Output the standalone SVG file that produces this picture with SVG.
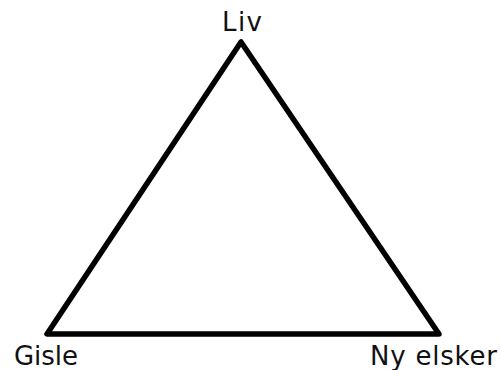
<svg xmlns="http://www.w3.org/2000/svg" width="501" height="370" viewBox="0 0 501 370">
<style>
.lbl{font-family:"DejaVu Sans","Liberation Sans",sans-serif;font-size:26px;fill:#111}
.edge{stroke:#000;stroke-width:5.5;fill:none;stroke-linecap:round;stroke-linejoin:round}
</style>
<rect width="501" height="370" fill="#fff"/>
<g id="connectors">
<polygon class="edge" points="241,42 47,334 439,334"/>
</g>
<g id="liv"><text class="lbl" x="242" y="31" text-anchor="middle" textLength="40">Liv</text></g>
<g id="gisle"><text class="lbl" x="14" y="365" textLength="64">Gisle</text></g>
<g id="ny-elsker"><text class="lbl" x="370" y="365" textLength="127">Ny elsker</text></g>
</svg>
